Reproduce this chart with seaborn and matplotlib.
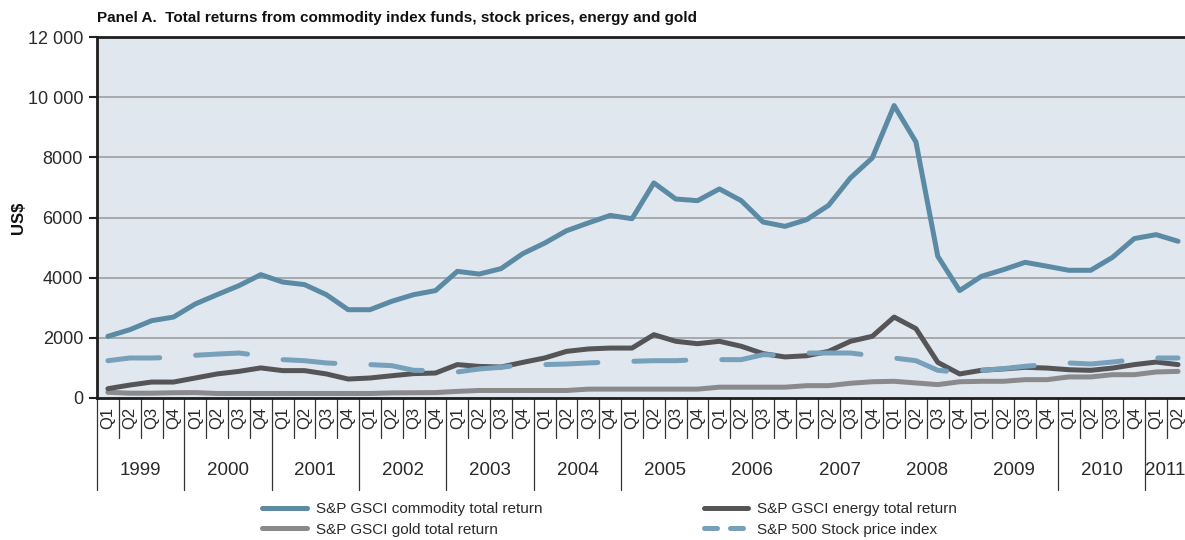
import numpy as np
import pandas as pd
import matplotlib
matplotlib.use('Agg')
import matplotlib.pyplot as plt
from matplotlib.lines import Line2D
import matplotlib.transforms as mtransforms
import seaborn as sns

# quarterly data, 1999 Q1 .. 2011 Q2
years = ['1999', '2000', '2001', '2002', '2003', '2004', '2005', '2006',
         '2007', '2008', '2009', '2010', '2011']
quarters = ['Q1', 'Q2', 'Q3', 'Q4'] * 12 + ['Q1', 'Q2']

commodity = [2050, 2270, 2570, 2690, 3125, 3435, 3735, 4100, 3855, 3770, 3435, 2935, 2935, 3215, 3435, 3570,
             4210, 4120, 4300, 4800, 5150, 5560, 5820, 6070, 5960, 7150, 6615, 6560, 6950, 6560, 5850, 5705,
             5930, 6405, 7315, 7980, 9720, 8510, 4710, 3570, 4045, 4265, 4510, 4380, 4245, 4245, 4675, 5300,
             5430, 5210]
energy = [310, 430, 530, 530, 665, 800, 885, 1000, 910, 910, 800, 630, 665, 740, 810, 830,
          1110, 1050, 1030, 1185, 1330, 1550, 1630, 1660, 1660, 2105, 1885, 1805, 1885, 1720, 1475, 1365,
          1405, 1550, 1885, 2050, 2690, 2305, 1185, 800, 920, 965, 1020, 995, 940, 920, 995, 1110,
          1195, 1110]
gold = [190, 160, 160, 175, 180, 150, 150, 150, 150, 150, 150, 150, 150, 170, 175, 180,
        220, 250, 250, 250, 250, 250, 295, 295, 295, 295, 295, 295, 360, 360, 360, 360,
        410, 410, 490, 540, 555, 500, 445, 540, 555, 555, 610, 610, 700, 700, 775, 775,
        865, 885]
sp500 = [1240, 1330, 1330, 1350, 1420, 1460, 1495, 1405, 1275, 1240, 1165, 1130, 1110, 1075, 920, 910,
         865, 965, 1020, 1110, 1110, 1130, 1165, 1195, 1220, 1240, 1240, 1275, 1275, 1275, 1440, 1420,
         1495, 1495, 1495, 1405, 1330, 1240, 920, 855, 920, 975, 1055, 1110, 1165, 1130, 1195, 1275,
         1330, 1330]

yticks = [0, 2000, 4000, 6000, 8000, 10000, 12000]
ytick_labels = ['0', '2000', '4000', '6000', '8000', '10 000', '12 000']
# year boundaries (quarter index) that get a separator in the year row
year_seps = [0, 4, 8, 12, 16, 20, 24, 44, 48]

labels = ['S&P GSCI commodity total return', 'S&P GSCI energy total return',
          'S&P GSCI gold total return', 'S&P 500 Stock price index']

c_comm = '#5b8aa4'
c_energy = '#555557'
c_gold = '#8a8a8d'
c_sp = '#77a0ba'
c_text = '#2a2a2a'

df = pd.DataFrame({'t': np.arange(len(commodity)), 'commodity': commodity,
                   'energy': energy, 'gold': gold, 'sp500': sp500})

sns.set_style('white')
plt.rcParams['font.family'] = ['Liberation Sans', 'DejaVu Sans']

fig = plt.figure(figsize=(11.85, 5.4), dpi=100)
ax = fig.add_axes([97 / 1185, 1 - 398 / 540, 1088 / 1185, 361 / 540])
ax.set_facecolor('#e1e7ef')

lw = 3.6
sns.lineplot(data=df, x='t', y='gold', ax=ax, color=c_gold, linewidth=lw, solid_capstyle='round')
sns.lineplot(data=df, x='t', y='energy', ax=ax, color=c_energy, linewidth=lw, solid_capstyle='round')
sns.lineplot(data=df, x='t', y='sp500', ax=ax, color=c_sp, linewidth=lw,
             linestyle=(0, (10.4, 7.2)), dash_capstyle='round')
sns.lineplot(data=df, x='t', y='commodity', ax=ax, color=c_comm, linewidth=lw, solid_capstyle='round')

ax.set_xlim(-0.5, len(commodity) - 1 + 0.32)
ax.set_ylim(0, 12000)
ax.set_yticks(yticks)
ax.set_yticklabels(ytick_labels, fontsize=13, color=c_text)
ax.tick_params(axis='y', direction='out', length=6, width=1.5, color='#222222', pad=4, left=True)
ax.set_xticks([])
ax.set_xlabel('')
ax.set_ylabel('')
fig.text(18 / 1185, 1 - 218 / 540, 'US$', rotation=90, ha='center', va='center',
         fontsize=12, fontweight='bold', color='#111111')
for g in yticks[1:-1]:
    ax.axhline(g, color='#a4a4aa', lw=1.3, zorder=0.5)

for s in ['left', 'top', 'bottom']:
    ax.spines[s].set_color('#1e1e1e')
    ax.spines[s].set_linewidth(2)
ax.spines['right'].set_visible(False)

# category axis below the plot: quarters, then years
trans = mtransforms.blended_transform_factory(ax.transData, ax.transAxes)
q_bot = -40 / 361
y_bot = -92 / 361
for i, q in enumerate(quarters):
    ax.text(i, -0.056, q, transform=trans, rotation=90, ha='center', va='center',
            fontsize=12, color=c_text, clip_on=False)
for b in range(len(quarters) + 1):
    bottom = y_bot if b in year_seps else q_bot
    ax.plot([b - 0.5, b - 0.5], [0, bottom], transform=trans, color='#333333',
            lw=0.9, clip_on=False)
for k, yr in enumerate(years):
    n = 4 if k < len(years) - 1 else 2
    ax.text(4 * k + (n - 1) / 2 - (0.1 if n == 2 else 0), -0.202, yr, transform=trans,
            ha='center', va='center', fontsize=13.5, color=c_text, clip_on=False)

fig.text(97 / 1185, 1 - 18 / 540,
         'Panel A.  Total returns from commodity index funds, stock prices, energy and gold',
         ha='left', va='center', fontsize=11, fontweight='bold', color='#111111')

handles = [
    Line2D([], [], color=c_comm, lw=lw, solid_capstyle='round'),
    Line2D([], [], color=c_gold, lw=lw, solid_capstyle='round'),
    Line2D([], [], color=c_energy, lw=lw, solid_capstyle='round'),
    Line2D([], [], color=c_sp, lw=lw, linestyle=(0, (2.6, 2.6)), dash_capstyle='round'),
]
fig.legend(handles, [labels[0], labels[2], labels[1], labels[3]], ncol=2,
           loc='center', bbox_to_anchor=(0.5145, 0.038), frameon=False, fontsize=11,
           handlelength=2.9, handletextpad=0.6, columnspacing=10.55, labelspacing=0.42,
           labelcolor=c_text)

fig.savefig('out.png', dpi=100)
